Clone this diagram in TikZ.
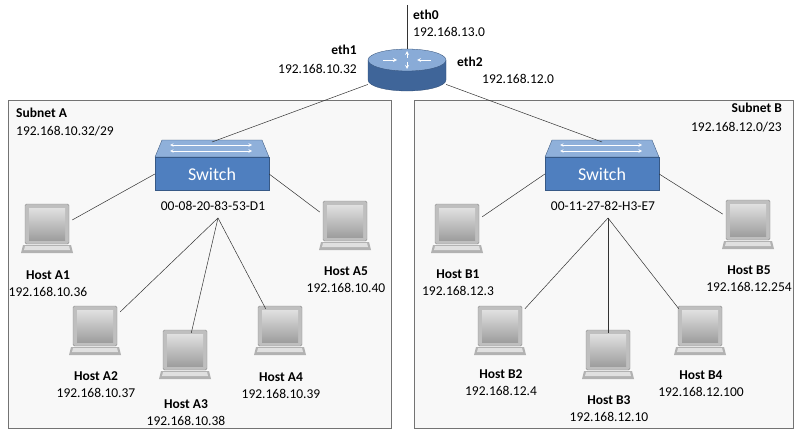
\documentclass[tikz,border=0pt]{standalone}
\usepackage{fontspec}
\setmainfont{Carlito}
\usetikzlibrary{shapes.geometric}
\definecolor{swblue}{HTML}{4F7FBF}
\definecolor{swtop}{HTML}{8FB0DA}
\definecolor{boxfill}{HTML}{F8F8F8}
\begin{document}
\begin{tikzpicture}[x=1pt,y=-1pt,
  lbl/.style={font=\fontsize{13.5}{15}\selectfont\bfseries, inner sep=0pt},
  ip/.style={font=\fontsize{13.5}{15}\selectfont, inner sep=0pt},
  wire/.style={draw=black!80, line width=0.5pt},
  subnet/.style={draw=black!55, fill=boxfill, line width=0.6pt},
  hostnode/.style={minimum width=50pt, minimum height=54pt, inner sep=0pt},
  pics/laptop/.style={code={
    \draw[black!45, fill=black!25, rounded corners=1.5pt] (-22,-27) rectangle (22,13);
    \shade[top color=black!12, bottom color=black!38] (-18,-23) rectangle (18,9);
    \fill[black!30] (-24,14) -- (24,14) -- (26,22) -- (-26,22) -- cycle;
    \fill[black!12] (-22,15) -- (22,15) -- (23,19) -- (-23,19) -- cycle;
  }}
]
\useasboundingbox (0,0) rectangle (800,436);
% subnets
\draw[subnet] (8,100) rectangle (391,428);
\draw[subnet] (414,100) rectangle (793,428);
\node[lbl, anchor=west] (sa) at (16,113) {Subnet A};
\node[ip, anchor=west] (sai) at (16,131) {192.168.10.32/29};
\node[lbl, anchor=east] (sb) at (782,108) {Subnet B};
\node[ip, anchor=east] (sbi) at (782,127) {192.168.12.0/23};

% router
\coordinate (top) at (407,5);
\node[minimum width=78pt, minimum height=40pt, inner sep=0pt] (R) at (407,70) {};
\draw[wire] (top) -- (407,50);
\fill[swblue!80!black, draw=swblue!60!black, line width=0.3pt] (368,60) -- (368,80) arc[start angle=180,end angle=0,x radius=39,y radius=11] -- (446,60) -- cycle;
\fill[swtop!90!swblue, draw=swblue!60!black, line width=0.3pt] (407,60) ellipse[x radius=39, y radius=11];
\draw[white, line width=0.8pt, -stealth] (383,60) -- (397,60);
\draw[white, line width=0.8pt, -stealth] (431,60) -- (417,60);
\draw[white, line width=0.8pt, -stealth] (407,62) -- (407,69);
\draw[white, line width=0.8pt, -stealth] (407,58) -- (407,51);
\node[lbl, anchor=west] (e0) at (413,15) {eth0};
\node[ip, anchor=west] (e0i) at (413,32) {192.168.13.0};
\node[lbl, anchor=east] (e1) at (357,50) {eth1};
\node[ip, anchor=east] (e1i) at (357,69) {192.168.10.32};
\node[lbl, anchor=west] (e2) at (457,62) {eth2};
\node[ip, anchor=west] (e2i) at (482,79) {192.168.12.0};

% switches
\foreach \n/\cx/\mac in {SA/212/00-08-20-83-53-D1, SB/602/00-11-27-82-H3-E7}{
  \fill[swtop, draw=swblue!60!black, line width=0.3pt] (\cx-50,140) -- (\cx+50,140) -- (\cx+57,157) -- (\cx-57,157) -- cycle;
  \foreach \dy in {145,151}{
    \draw[white, line width=0.6pt, stealth-stealth] (\cx-42,\dy) -- (\cx+40,\dy);
  }
  \node[fill=swblue, draw=swblue!70!black, line width=0.3pt, minimum width=114pt, minimum height=33pt, inner sep=0pt, text=white, font=\fontsize{18}{20}\selectfont] (\n) at (\cx,174) {Switch};
  \node[ip] (\n m) at (\cx+1,206) {\mac};
  \coordinate (\n h) at (\cx+6,218);
}
\draw[wire] (R) -- (212,142);
\draw[wire] (R) -- (602,142);

% hosts
\foreach \n/\x/\y/\ly/\name/\addr in {
  A1/47/234/275/Host A1/192.168.10.36,
  A2/95/336/376/Host A2/192.168.10.37,
  A3/185/360/404/Host A3/192.168.10.38,
  A4/280/336/377/Host A4/192.168.10.39,
  A5/345/231/271/Host A5/192.168.10.40,
  B1/457/234/274/Host B1/192.168.12.3,
  B2/500/336/374/Host B2/192.168.12.4,
  B3/608/360/400/Host B3/192.168.12.10,
  B4/700/336/375/Host B4/192.168.12.100,
  B5/748/230/270/Host B5/192.168.12.254}{
  \node[hostnode] (\n) at (\x,\y) {};
  \pic at (\x,\y-3) {laptop};
  \node[lbl] (\n l) at (\x+1,\ly) {\name};
  \node[ip] (\n i) at (\x+1,\ly+17) {\addr};
}
\draw[wire] (SA.west) -- (A1);
\draw[wire] (SA.east) -- (A5);
\draw[wire] (SAh) -- (A2);
\draw[wire] (SAh) -- (A3);
\draw[wire] (SAh) -- (A4);
\draw[wire] (SB.west) -- (B1);
\draw[wire] (SB.east) -- (B5);
\draw[wire] (SBh) -- (B2);
\draw[wire] (SBh) -- (B3);
\draw[wire] (SBh) -- (B4);
\end{tikzpicture}
\end{document}
